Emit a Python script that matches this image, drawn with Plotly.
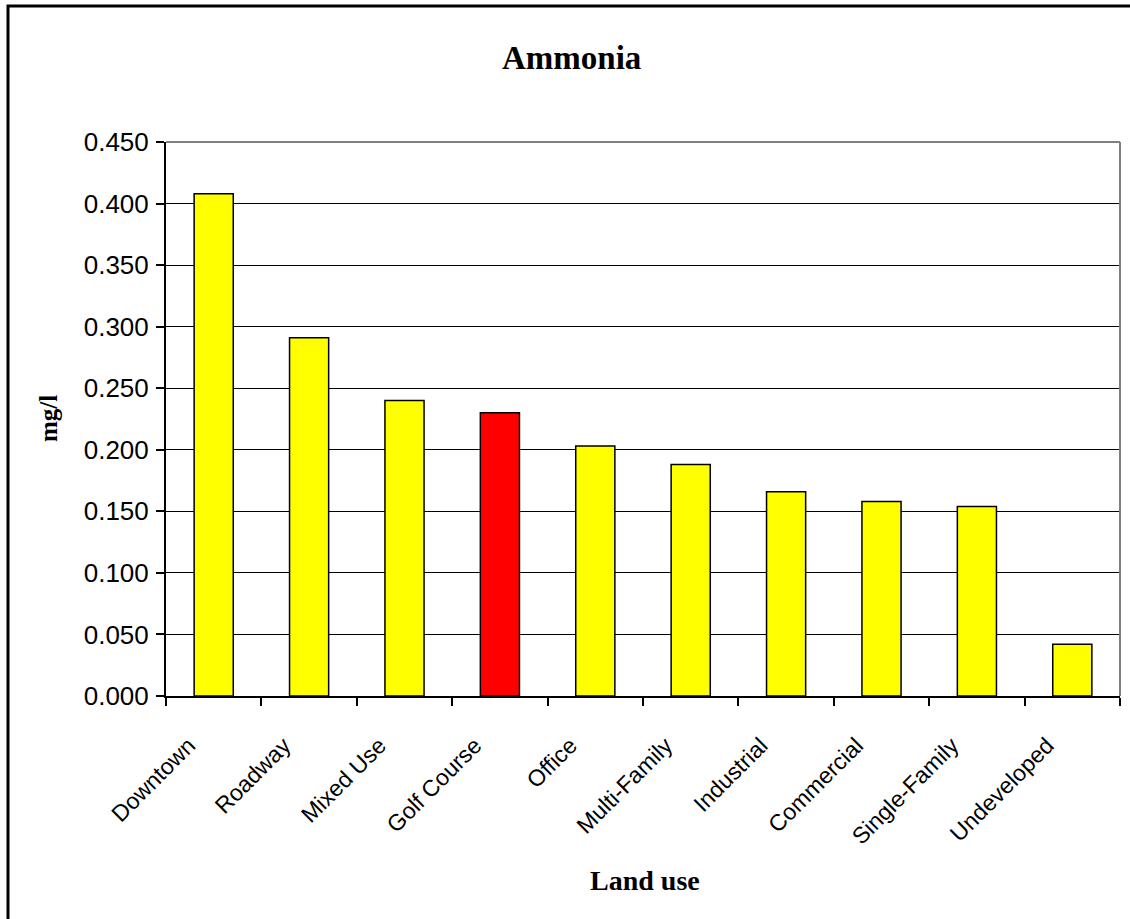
import plotly.graph_objects as go

categories = ["Downtown", "Roadway", "Mixed Use", "Golf Course", "Office",
              "Multi-Family", "Industrial", "Commercial", "Single-Family", "Undeveloped"]
values = [0.408, 0.291, 0.240, 0.230, 0.203, 0.188, 0.166, 0.158, 0.154, 0.042]
bar_colors = ["#FFFF00", "#FFFF00", "#FFFF00", "#FF0000", "#FFFF00",
              "#FFFF00", "#FFFF00", "#FFFF00", "#FFFF00", "#FFFF00"]
y_ticks = [0.0, 0.05, 0.10, 0.15, 0.20, 0.25, 0.30, 0.35, 0.40, 0.45]

W, H = 1130, 919
L, R, T, B = 166, 10, 142, 223
pw, ph = W - L - R, H - T - B

def px(x):
    return (x - L) / pw

def py(y):
    return (H - B - y) / ph

fig = go.Figure()
fig.add_trace(go.Bar(
    x=categories, y=values, width=0.41,
    marker=dict(color=bar_colors, line=dict(color="black", width=1.5)),
))

fig.update_layout(
    width=W, height=H,
    margin=dict(l=L, r=R, t=T, b=B, pad=0),
    paper_bgcolor="white", plot_bgcolor="white",
    showlegend=False,
    bargap=0.59,
    xaxis=dict(
        type="category", tickangle=-45, ticks="outside", tickson="boundaries",
        ticklen=8, tickwidth=2, tickcolor="black",
        showline=True, linecolor="black", linewidth=2,
        showgrid=False, mirror=False,
        ticklabelstandoff=25, ticklabelshift=-25,
        tickfont=dict(family="Liberation Sans, Arial", size=23, color="black"),
    ),
    yaxis=dict(
        range=[0, 0.45], tickvals=y_ticks, tickformat=".3f",
        ticks="outside", ticklen=8, tickwidth=2, tickcolor="black",
        showline=True, linecolor="black", linewidth=2,
        showgrid=True, gridcolor="black", gridwidth=1.2,
        zeroline=False, ticklabelstandoff=2,
        tickfont=dict(family="Liberation Sans, Arial", size=26, color="black"),
    ),
    shapes=[
        dict(type="line", xref="paper", yref="paper", x0=0, x1=1, y0=1, y1=1,
             line=dict(color="#808080", width=2)),
        dict(type="line", xref="paper", yref="paper", x0=1, x1=1, y0=0, y1=1,
             line=dict(color="#808080", width=2)),
        dict(type="rect", xref="paper", yref="paper",
             x0=px(8), x1=px(1140), y0=py(930), y1=py(6),
             line=dict(color="black", width=3), fillcolor="rgba(0,0,0,0)"),
    ],
    annotations=[
        dict(text="<b>Ammonia</b>", xref="paper", yref="paper",
             x=px(571), y=py(58), xanchor="center", yanchor="middle", showarrow=False,
             font=dict(family="Liberation Serif, Times New Roman", size=33, color="black")),
        dict(text="<b>Land use</b>", xref="paper", yref="paper",
             x=px(645), y=py(880), xanchor="center", yanchor="middle", showarrow=False,
             font=dict(family="Liberation Serif, Times New Roman", size=28, color="black")),
        dict(text="<b>mg/l</b>", xref="paper", yref="paper", textangle=-90,
             x=px(48), y=py(419), xanchor="center", yanchor="middle", showarrow=False,
             font=dict(family="Liberation Serif, Times New Roman", size=25, color="black")),
    ],
)

fig.write_html("out.html")
